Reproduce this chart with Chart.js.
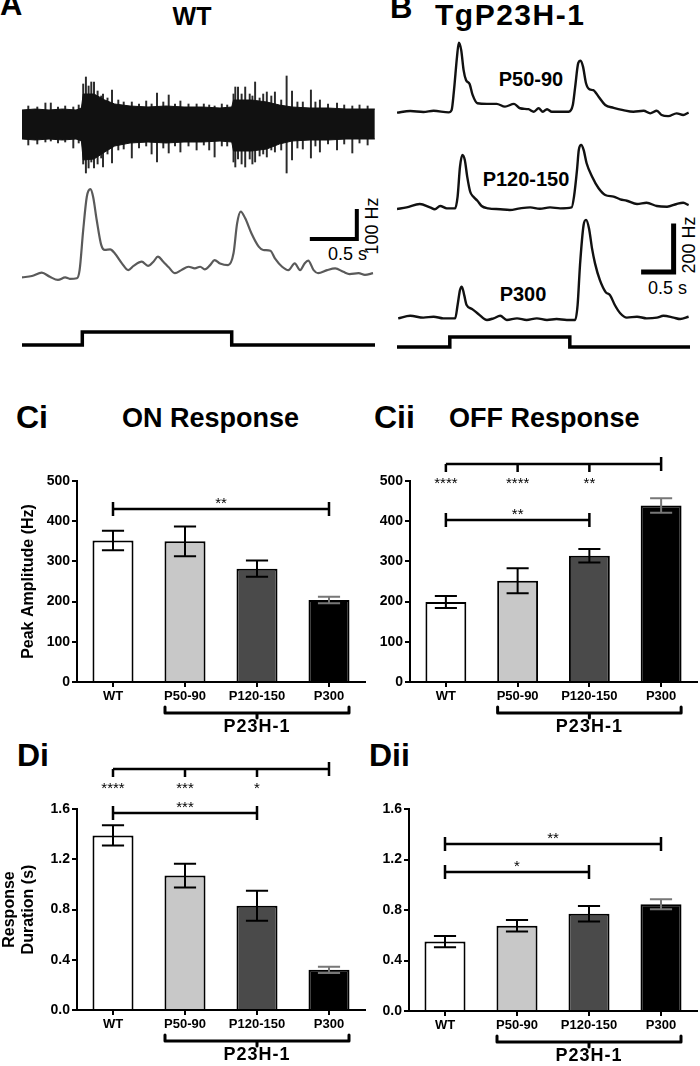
<!DOCTYPE html>
<html><head><meta charset="utf-8">
<script src="https://cdn.jsdelivr.net/npm/chart.js@4.4.1/dist/chart.umd.min.js"></script>
<style>
html,body{margin:0;padding:0;background:#fff;}
body{width:700px;height:1066px;position:relative;overflow:hidden;font-family:"Liberation Sans",Arial,Helvetica,sans-serif;color:#000;}
canvas{position:absolute;}
.t{position:absolute;white-space:nowrap;line-height:1;font-weight:bold;}
.n{font-weight:normal;}
.c{transform:translateX(-50%);}
.r{transform:translate(-50%,-50%) rotate(-90deg);}
</style></head><body>
<div class="t" style="left:0;top:-11px;font-size:31px">A</div>
<div class="t c" style="left:192px;top:4px;font-size:25px">WT</div>
<div class="t" style="left:390px;top:-8px;font-size:31px">B</div>
<div class="t" style="left:435px;top:0px;font-size:30px;letter-spacing:1.5px">TgP23H-1</div>
<div class="t c" style="left:531px;top:69px;font-size:20px">P50-90</div>
<div class="t c" style="left:526px;top:169px;font-size:20px">P120-150</div>
<div class="t c" style="left:523px;top:284px;font-size:20px">P300</div>
<div class="t n" style="left:328px;top:245px;font-size:18px">0.5 s</div>
<div class="t n r" style="left:372px;top:226px;font-size:18px">100 Hz</div>
<div class="t n" style="left:648px;top:279px;font-size:18px">0.5 s</div>
<div class="t n r" style="left:689px;top:245px;font-size:18px">200 Hz</div>
<div class="t" style="left:16px;top:401px;font-size:32px">Ci</div>
<div class="t" style="left:122px;top:405px;font-size:27px">ON Response</div>
<div class="t" style="left:374px;top:401px;font-size:32px">Cii</div>
<div class="t" style="left:449px;top:405px;font-size:27px">OFF Response</div>
<div class="t" style="left:17px;top:739px;font-size:32px">Di</div>
<div class="t" style="left:369px;top:739px;font-size:32px">Dii</div>
<script>
// ---------- DATA ----------
const categories = ['WT', 'P50-90', 'P120-150', 'P300'];
const groupLabel = 'P23H-1';

const onPeakHz   = [352, 350, 282, 204];
const onPeakSem  = [24, 37, 20, 8];
const offPeakHz  = [199, 252, 314, 439];
const offPeakSem = [15, 31, 17, 18];
const onDurS     = [1.39, 1.07, 0.83, 0.32];
const onDurSem   = [0.08, 0.095, 0.12, 0.025];
const offDurS    = [0.55, 0.675, 0.77, 0.845];
const offDurSem  = [0.045, 0.045, 0.062, 0.04];

const peakTicks = [0, 100, 200, 300, 400, 500];
const durTicks  = [0, 0.4, 0.8, 1.2, 1.6];

const onPeakSig  = [{from: 0, to: 3, level: 431, label: '**'}];
const offPeakSig = [{from: 0, to: 2, level: 404, label: '**'},
                    {multi: [0, 1, 2], to: 3, level: 543, labels: ['****', '****', '**']}];
const onDurSig   = [{from: 0, to: 2, level: 1.57, label: '***'},
                    {multi: [0, 1, 2], to: 3, level: 1.92, labels: ['****', '***', '*']}];
const offDurSig  = [{from: 0, to: 2, level: 1.10, label: '*'},
                    {from: 0, to: 3, level: 1.32, label: '**'}];

// WT raw recording: envelope of the dense band and individual spikes (arbitrary units)
const rawEnvT  = [0, 0.15, 0.3, 0.45, 0.6, 0.66, 0.68, 0.80, 0.92, 1.03, 1.2, 1.4, 1.6, 1.8, 2.0, 2.2, 2.33, 2.35, 2.55, 2.72, 2.86, 3.0, 3.2, 3.4, 3.6, 3.8, 3.92];
const rawEnvHi = [14, 15, 14, 15, 14, 16, 30, 30, 24, 20, 18, 17, 18, 17, 17, 16, 17, 24, 24, 22, 19, 17, 16, 16, 15, 15, 15];
const rawEnvLo = [-15, -16, -15, -16, -15, -17, -36, -35, -28, -22, -19, -18, -19, -18, -18, -17, -18, -27, -27, -25, -20, -17, -16, -16, -15, -15, -15];
const rawSpikeT  = [0.07,0.17,0.26,0.32,0.40,0.48,0.57,0.63,
  0.68,0.71,0.74,0.77,0.80,0.84,0.88,0.90,0.95,1.00,1.07,1.13,1.22,1.30,1.38,1.44,1.50,1.57,1.63,1.70,1.76,1.85,1.94,2.02,2.08,2.14,2.22,2.28,
  2.35,2.37,2.40,2.44,2.48,2.53,2.56,2.59,2.64,2.68,2.72,2.77,2.81,2.88,2.94,3.00,3.06,3.12,3.21,3.26,3.31,3.40,3.50,3.58,3.67,3.75,3.84];
const rawSpikeHi = [18,17,21,21,17,18,17,19,
  40,47,38,42,42,33,28,30,26,34,24,22,22,20,23,20,31,22,29,20,23,20,20,20,19,18,20,19,
  30,37,37,30,37,30,28,42,26,30,32,28,32,24,48,33,22,22,34,22,24,20,21,19,18,19,18];
const rawSpikeLo = [-21,-20,-18,-17,-19,-18,-24,-19,
  -40,-49,-44,-38,-44,-40,-34,-43,-30,-39,-26,-25,-34,-24,-22,-30,-38,-24,-29,-22,-28,-22,-26,-21,-26,-33,-22,-22,
  -38,-43,-35,-40,-43,-35,-40,-38,-32,-30,-33,-26,-28,-26,-49,-36,-24,-25,-34,-22,-28,-20,-26,-20,-29,-19,-21];

// WT firing rate (s, Hz)
const wtRateT  = [0.00,0.11,0.22,0.31,0.40,0.48,0.53,0.61,0.64,0.68,0.72,0.76,0.79,0.83,0.88,0.92,0.98,1.03,1.11,1.18,1.24,1.33,1.40,1.46,1.51,1.57,1.63,1.70,1.77,1.85,1.92,1.98,2.03,2.09,2.14,2.20,2.29,2.35,2.39,2.43,2.48,2.55,2.63,2.68,2.76,2.81,2.89,2.96,3.03,3.09,3.14,3.18,3.24,3.29,3.39,3.48,3.57,3.64,3.74,3.81,3.90];
const wtRateHz = [45,50,62,47,36,45,40,42,71,214,333,360,333,250,161,143,145,131,95,71,86,101,86,101,119,101,81,60,71,83,77,83,74,89,107,95,89,131,238,280,256,202,155,143,140,113,83,71,95,71,95,105,71,60,71,77,65,57,60,54,60];

// TgP23H-1 firing rates (s, Hz)
const p50T  = [0.00,0.22,0.44,0.61,0.86,0.91,0.95,1.00,1.03,1.07,1.11,1.15,1.21,1.26,1.34,1.50,1.66,1.80,1.95,2.05,2.19,2.28,2.36,2.43,2.50,2.58,2.72,2.86,2.93,2.97,3.02,3.06,3.10,3.15,3.21,3.27,3.36,3.47,3.61,3.77,3.94,4.11,4.22,4.33,4.41,4.52,4.66,4.77,4.86];
const p50Hz = [32,39,35,40,33,43,130,275,336,304,217,174,157,109,73,70,70,58,70,51,47,36,51,36,47,36,36,36,65,145,247,258,232,160,133,130,101,65,53,43,36,40,29,40,22,17,29,22,32];
const p120T  = [0.00,0.16,0.38,0.55,0.63,0.72,0.83,0.97,1.01,1.05,1.09,1.13,1.17,1.22,1.27,1.34,1.41,1.52,1.72,1.88,2.05,2.22,2.38,2.55,2.72,2.91,2.95,3.00,3.03,3.07,3.11,3.16,3.25,3.36,3.47,3.61,3.72,3.83,4.00,4.16,4.33,4.50,4.66,4.77,4.86];
const p120Hz = [26,33,48,33,25,39,29,29,80,210,261,239,167,101,80,62,39,29,25,22,29,33,27,33,29,33,80,196,283,304,283,225,167,116,87,80,68,62,48,53,39,36,48,53,43];
const p300T  = [0.02,0.22,0.44,0.61,0.77,0.97,1.01,1.05,1.08,1.12,1.16,1.25,1.36,1.50,1.61,1.72,1.83,2.00,2.16,2.33,2.50,2.66,2.83,2.97,3.01,3.05,3.11,3.15,3.20,3.25,3.30,3.38,3.48,3.55,3.63,3.72,3.83,4.00,4.16,4.33,4.44,4.61,4.72,4.86];
const p300Hz = [29,40,32,36,29,29,87,152,167,130,87,70,47,22,29,40,22,29,22,29,22,26,22,22,87,261,435,457,420,333,268,196,142,130,87,51,32,36,29,32,40,32,26,36];

// Light stimulus (s, off=0 / on=1)
const stimAT = [0, 0.67, 0.67, 2.33, 2.33, 3.92];
const stimBT = [0, 0.88, 0.88, 2.88, 2.88, 4.88];
const stimLevel = [0, 0, 1, 1, 0, 0];

// Scale bars (s, Hz)
const scaleA = {t: [3.22, 3.72, 3.72], hz: [182, 182, 282]};
const scaleB = {t: [4.11, 4.61, 4.61], hz: [230, 230, 430]};

// ---------- STYLE ----------
const BAR_FILL = ['#ffffff', '#c8c8c8', '#4a4a4a', '#000000'];
const ERR_COLOR = ['#000', '#000', '#000', '#777'];
const FONT = '"Liberation Sans", Arial, Helvetica, sans-serif';
Chart.defaults.font.family = FONT;
Chart.defaults.color = '#000';

function place(id, left, top, w, h) {
  const c = document.createElement('canvas');
  c.id = id; c.width = w; c.height = h;
  c.style.left = left + 'px'; c.style.top = top + 'px';
  c.style.width = w + 'px'; c.style.height = h + 'px';
  document.body.appendChild(c);
  return c;
}
const pts = (ts, vs) => ts.map((t, i) => ({x: t, y: vs[i]}));

function traceChart(id, box, xr, yr, datasets) {
  const c = place(id, box[0], box[1], box[2], box[3]);
  return new Chart(c, {
    type: 'line',
    data: {datasets},
    options: {
      responsive: false, animation: false, devicePixelRatio: 1, events: [],
      layout: {padding: 0},
      plugins: {legend: {display: false}, tooltip: {enabled: false}},
      elements: {point: {radius: 0}},
      scales: {
        x: {type: 'linear', display: false, min: xr[0], max: xr[1], offset: false},
        y: {type: 'linear', display: false, min: yr[0], max: yr[1]}
      }
    }
  });
}
const smooth = (data, color, w) => ({data, borderColor: color, borderWidth: w, fill: false, cubicInterpolationMode: 'monotone'});
const straight = (data, color, w) => ({data, borderColor: color, borderWidth: w, fill: false, tension: 0, borderJoinStyle: 'miter', borderCapStyle: 'square'});

// Panel A
traceChart('rawA', [22, 70, 353, 110], [0, 3.922], [-56, 54], [
  {data: pts(rawEnvT, rawEnvHi), borderColor: '#111', borderWidth: 1, fill: false, tension: 0},
  {data: pts(rawEnvT, rawEnvLo), borderColor: '#111', borderWidth: 1, fill: '-1', backgroundColor: '#111', tension: 0},
  {type: 'bar', data: rawSpikeT.map((t, i) => ({x: t, y: [rawSpikeLo[i], rawSpikeHi[i]]})), backgroundColor: '#2a2a2a', barThickness: 1.3, grouped: false}
]);
traceChart('rateA', [22, 180, 353, 110], [0, 3.922], [0, 392.9], [
  smooth(pts(wtRateT, wtRateHz), '#5a5a5a', 2.2),
  straight(pts(scaleA.t, scaleA.hz), '#000', 4)
]);
traceChart('stimA', [22, 325, 353, 27], [0, 3.922], [-0.538, 1.538], [
  straight(pts(stimAT, stimLevel), '#000', 3.5)
]);

// Panel B
traceChart('p50', [397, 35, 293, 85], [0, 4.883], [0, 369.6], [smooth(pts(p50T, p50Hz), '#111', 2.4)]);
traceChart('p120', [397, 135, 293, 80], [0, 4.883], [0, 347.8], [smooth(pts(p120T, p120Hz), '#111', 2.4)]);
traceChart('p300', [397, 212, 293, 113], [0, 4.883], [0, 491.3], [
  smooth(pts(p300T, p300Hz), '#111', 2.4),
  straight(pts(scaleB.t, scaleB.hz), '#000', 5)
]);
traceChart('stimB', [397, 328, 293, 25], [0, 4.883], [-0.6, 1.9], [
  straight(pts(stimBT, stimLevel), '#000', 3.5)
]);

// ---------- BAR CHART PLUGINS ----------
const errPlugin = {
  id: 'errBars',
  afterDatasetsDraw(chart, args, opts) {
    const ctx = chart.ctx, ys = chart.scales.y, meta = chart.getDatasetMeta(0);
    const vals = chart.data.datasets[0].data;
    ctx.save(); ctx.lineWidth = 2;
    meta.data.forEach((bar, i) => {
      const e = opts.errs[i];
      const hi = ys.getPixelForValue(vals[i] + e), lo = ys.getPixelForValue(vals[i] - e);
      const cw = bar.width * 0.27;
      ctx.strokeStyle = ERR_COLOR[i];
      ctx.beginPath();
      ctx.moveTo(bar.x, hi); ctx.lineTo(bar.x, lo);
      ctx.moveTo(bar.x - cw, hi); ctx.lineTo(bar.x + cw, hi);
      ctx.moveTo(bar.x - cw, lo); ctx.lineTo(bar.x + cw, lo);
      ctx.stroke();
    });
    ctx.restore();
  }
};
const sigPlugin = {
  id: 'sig',
  afterDraw(chart, args, opts) {
    const ctx = chart.ctx, xs = chart.scales.x, ys = chart.scales.y;
    ctx.save();
    ctx.lineWidth = 2.5; ctx.strokeStyle = '#000'; ctx.fillStyle = '#000';
    ctx.font = '15px ' + FONT; ctx.textAlign = 'center'; ctx.textBaseline = 'alphabetic';
    opts.items.forEach(it => {
      const y = Math.round(ys.getPixelForValue(it.level));
      if (it.multi) {
        const xr = xs.getPixelForValue(it.to);
        const x0 = xs.getPixelForValue(it.multi[0]);
        ctx.beginPath();
        ctx.moveTo(x0, y); ctx.lineTo(xr, y);
        ctx.moveTo(xr, y - 7); ctx.lineTo(xr, y + 7);
        it.multi.forEach(k => { const x = xs.getPixelForValue(k); ctx.moveTo(x, y); ctx.lineTo(x, y + 8); });
        ctx.stroke();
        it.multi.forEach((k, j) => ctx.fillText(it.labels[j], xs.getPixelForValue(k), y + 24));
      } else {
        const xa = xs.getPixelForValue(it.from), xb = xs.getPixelForValue(it.to);
        ctx.beginPath();
        ctx.moveTo(xa, y); ctx.lineTo(xb, y);
        ctx.moveTo(xa, y - 7); ctx.lineTo(xa, y + 7);
        ctx.moveTo(xb, y - 7); ctx.lineTo(xb, y + 7);
        ctx.stroke();
        ctx.fillText(it.label, (xa + xb) / 2, y - 1);
      }
    });
    ctx.restore();
  }
};
const groupPlugin = {
  id: 'group',
  afterDraw(chart, args, opts) {
    const ctx = chart.ctx, xs = chart.scales.x, yb = chart.chartArea.bottom;
    const x1 = xs.getPixelForValue(opts.from), x2 = xs.getPixelForValue(opts.to);
    const xa = x1 - 20, xb = x2 + 20, xm = (x1 + x2) / 2, y = yb + 31;
    ctx.save();
    ctx.lineWidth = 3; ctx.strokeStyle = '#000'; ctx.lineJoin = 'round'; ctx.lineCap = 'round';
    ctx.beginPath();
    ctx.moveTo(xa, y - 6); ctx.lineTo(xa, y); ctx.lineTo(xb, y); ctx.lineTo(xb, y - 6);
    ctx.moveTo(xm, y); ctx.lineTo(xm, y + 5);
    ctx.stroke();
    ctx.font = 'bold 18px ' + FONT;
    try { ctx.letterSpacing = '1px'; } catch (e) {}
    ctx.textAlign = 'center'; ctx.textBaseline = 'middle'; ctx.fillStyle = '#000';
    ctx.fillText(opts.label, xm, yb + 45);
    ctx.restore();
  }
};

function barChart(o) {
  const c = place(o.id, o.box[0], o.box[1], o.box[2], o.box[3]);
  return new Chart(c, {
    type: 'bar',
    data: {labels: categories, datasets: [{
      data: o.values, backgroundColor: BAR_FILL, borderColor: '#000', borderWidth: 2,
      borderSkipped: 'start', barPercentage: 0.57, categoryPercentage: 1
    }]},
    options: {
      responsive: false, animation: false, devicePixelRatio: 1, events: [],
      layout: {padding: {top: o.padTop, right: o.padRight, left: 0, bottom: 0}},
      plugins: {
        legend: {display: false}, tooltip: {enabled: false},
        errBars: {errs: o.errs}, sig: {items: o.sig}, group: {from: 1, to: 3, label: groupLabel}
      },
      scales: {
        x: {
          type: 'category', offset: true,
          grid: {display: true, drawOnChartArea: false, drawTicks: true, tickLength: 5, color: '#000', lineWidth: 2, offset: false},
          border: {display: true, color: '#000', width: 2},
          ticks: {color: '#000', font: {size: 13, weight: 'bold'}, padding: 2, maxRotation: 0, minRotation: 0, autoSkip: false},
          afterFit(s) { s.height = o.xH; }
        },
        y: {
          type: 'linear', min: o.ticks[0], max: o.ticks[o.ticks.length - 1],
          grid: {display: true, drawOnChartArea: false, drawTicks: true, tickLength: 5, color: '#000', lineWidth: 2},
          border: {display: true, color: '#000', width: 2},
          ticks: {color: '#000', font: {size: 14, weight: 'bold'}, padding: 2, callback: v => Number(v).toFixed(o.dec)},
          afterBuildTicks(s) { s.ticks = o.ticks.map(v => ({value: v})); },
          title: {display: !!o.title, text: o.title || '', color: '#000', font: {size: 16, weight: 'bold'}, padding: {top: o.titlePad || 0, bottom: 0}},
          afterFit(s) { s.width = o.yW; }
        }
      }
    },
    plugins: [errPlugin, sigPlugin, groupPlugin]
  });
}

barChart({id: 'ci', box: [0, 445, 368, 290], padTop: 36, padRight: 3, yW: 77, xH: 53,
  values: onPeakHz, errs: onPeakSem, sig: onPeakSig, ticks: peakTicks, dec: 0,
  title: 'Peak Amplitude (Hz)', titlePad: 19});
barChart({id: 'cii', box: [370, 445, 330, 290], padTop: 36, padRight: 3, yW: 40, xH: 53,
  values: offPeakHz, errs: offPeakSem, sig: offPeakSig, ticks: peakTicks, dec: 0});
barChart({id: 'di', box: [0, 750, 368, 316], padTop: 59, padRight: 3, yW: 77, xH: 56,
  values: onDurS, errs: onDurSem, sig: onDurSig, ticks: durTicks, dec: 1,
  title: ['Response', 'Duration (s)'], titlePad: 0});
barChart({id: 'dii', box: [370, 750, 330, 316], padTop: 59, padRight: 3, yW: 39, xH: 55,
  values: offDurS, errs: offDurSem, sig: offDurSig, ticks: durTicks, dec: 1});
</script>
</body></html>
